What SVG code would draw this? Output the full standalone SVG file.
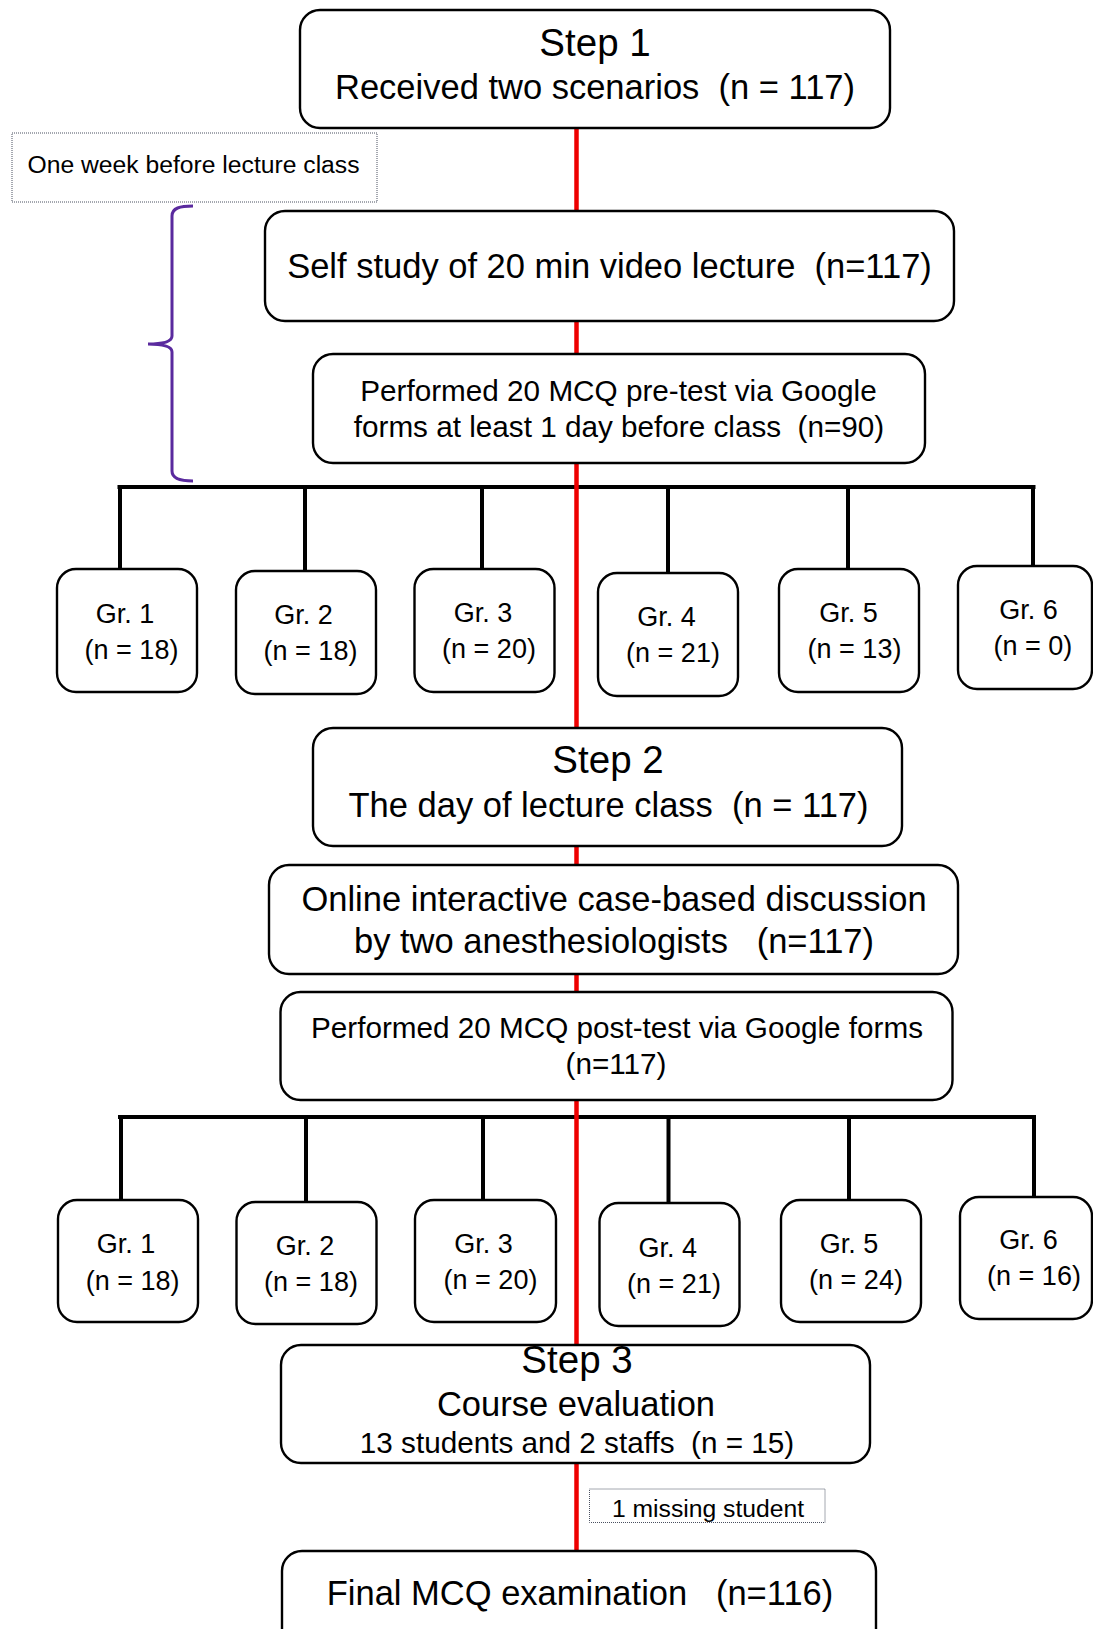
<svg xmlns="http://www.w3.org/2000/svg" width="1093" height="1629" viewBox="0 0 1093 1629">
<style>
text{font-family:"Liberation Sans",Arial,sans-serif;fill:#000;text-anchor:middle;white-space:pre}
.box{fill:#fff;stroke:#000;stroke-width:2.4}
.note{fill:#fff;stroke:#4a5060;stroke-width:1;stroke-dasharray:1 1}
.tree{stroke:#000;stroke-width:4;fill:none}
.red{stroke:#ee0000;stroke-width:4.5;fill:none}
.brace{stroke:#5a2a9e;stroke-width:3;fill:none}
.big{font-size:38.5px}
.m{font-size:34.5px}
.s{font-size:29.7px}
.g{font-size:27px}
.n{font-size:24.7px}
</style>
<rect width="1093" height="1629" fill="#fff"/>
<g id="connectors">
<path class="tree" d="M117.5,487 H1035.5 M120,487 V569 M305,487 V571 M482,487 V569 M668,487 V573 M848,487 V569 M1033,487 V566"/>
<path class="tree" d="M118,1117 H1036 M121,1117 V1200 M306,1117 V1202 M483,1117 V1200 M668.5,1117 V1203 M849,1117 V1200 M1034,1117 V1197"/>
<path class="red" d="M576.5,128 V1551"/>
<path class="brace" d="M193,206 C180,206 172,208 172,216 L172,336 C172,341 165,344 148,344 C165,344 172,347 172,352 L172,471 C172,478 180,481 193,481"/>
</g>
<g id="step1"><rect class="box" x="300" y="10" width="590" height="118" rx="20"/>
<text class="big" x="595" y="56">Step 1</text>
<text class="m" x="595" y="99">Received two scenarios  (n = 117)</text></g>
<g id="note1"><rect class="note" x="12" y="133" width="365" height="69"/>
<text class="n" x="193.5" y="173">One week before lecture class</text></g>
<g id="selfstudy"><rect class="box" x="265" y="211" width="689" height="110" rx="20"/>
<text class="m" x="609.5" y="278">Self study of 20 min video lecture  (n=117)</text></g>
<g id="pretest"><rect class="box" x="313" y="354" width="612" height="109" rx="20"/>
<text class="s" x="618.5" y="401">Performed 20 MCQ pre-test via Google</text>
<text class="s" x="619" y="437">forms at least 1 day before class  (n=90)</text></g>
<g id="pre-g1"><rect class="box" x="57" y="569" width="140" height="123" rx="19"/><text class="g" x="125" y="623">Gr. 1</text><text class="g" x="131.5" y="659">(n = 18)</text></g>
<g id="pre-g2"><rect class="box" x="236" y="571" width="140" height="123" rx="19"/><text class="g" x="303.5" y="624">Gr. 2</text><text class="g" x="310.5" y="660">(n = 18)</text></g>
<g id="pre-g3"><rect class="box" x="414.5" y="569" width="140" height="123" rx="19"/><text class="g" x="483" y="622">Gr. 3</text><text class="g" x="489" y="658">(n = 20)</text></g>
<g id="pre-g4"><rect class="box" x="598" y="573" width="140" height="123" rx="19"/><text class="g" x="666.5" y="626">Gr. 4</text><text class="g" x="673" y="662">(n = 21)</text></g>
<g id="pre-g5"><rect class="box" x="779" y="569" width="140" height="123" rx="19"/><text class="g" x="848.5" y="622">Gr. 5</text><text class="g" x="854.5" y="658">(n = 13)</text></g>
<g id="pre-g6"><rect class="box" x="958" y="566" width="134" height="123" rx="19"/><text class="g" x="1028.6" y="619">Gr. 6</text><text class="g" x="1032.8" y="655">(n = 0)</text></g>
<g id="step2"><rect class="box" x="313" y="728" width="589" height="118" rx="20"/>
<text class="big" x="608" y="773">Step 2</text>
<text class="m" x="608.5" y="817">The day of lecture class  (n = 117)</text></g>
<g id="online"><rect class="box" x="269" y="865" width="689" height="109" rx="20"/>
<text class="m" x="614" y="911">Online interactive case-based discussion</text>
<text class="m" x="614" y="953">by two anesthesiologists   (n=117)</text></g>
<g id="posttest"><rect class="box" x="280.5" y="992" width="672" height="108" rx="20"/>
<text class="s" x="617" y="1038">Performed 20 MCQ post-test via Google forms</text>
<text class="s" x="616" y="1074">(n=117)</text></g>
<g id="post-g1"><rect class="box" x="58" y="1200" width="140" height="122" rx="19"/><text class="g" x="126" y="1253">Gr. 1</text><text class="g" x="132.6" y="1290">(n = 18)</text></g>
<g id="post-g2"><rect class="box" x="236.5" y="1202" width="140" height="122" rx="19"/><text class="g" x="305" y="1255">Gr. 2</text><text class="g" x="311" y="1291">(n = 18)</text></g>
<g id="post-g3"><rect class="box" x="415" y="1200" width="141" height="122" rx="19"/><text class="g" x="483.6" y="1253">Gr. 3</text><text class="g" x="490.5" y="1289">(n = 20)</text></g>
<g id="post-g4"><rect class="box" x="599.5" y="1203" width="140" height="123" rx="19"/><text class="g" x="667.7" y="1257">Gr. 4</text><text class="g" x="674" y="1293">(n = 21)</text></g>
<g id="post-g5"><rect class="box" x="781" y="1200" width="140" height="122" rx="19"/><text class="g" x="849" y="1253">Gr. 5</text><text class="g" x="856" y="1289">(n = 24)</text></g>
<g id="post-g6"><rect class="box" x="960" y="1197" width="132" height="122" rx="19"/><text class="g" x="1028.6" y="1249">Gr. 6</text><text class="g" x="1034" y="1285">(n = 16)</text></g>
<g id="step3"><rect class="box" x="281" y="1345" width="589" height="118" rx="20"/>
<text class="big" x="577" y="1373">Step 3</text>
<text class="m" x="576" y="1416">Course evaluation</text>
<text class="s" x="577" y="1453">13 students and 2 staffs  (n = 15)</text></g>
<g id="note2"><rect class="note" x="589.5" y="1489" width="235.5" height="33.5"/>
<text class="n" x="708" y="1517">1 missing student</text></g>
<g id="final"><rect class="box" x="282" y="1551" width="594" height="110" rx="20"/>
<text class="m" x="580" y="1605">Final MCQ examination   (n=116)</text></g>
</svg>
